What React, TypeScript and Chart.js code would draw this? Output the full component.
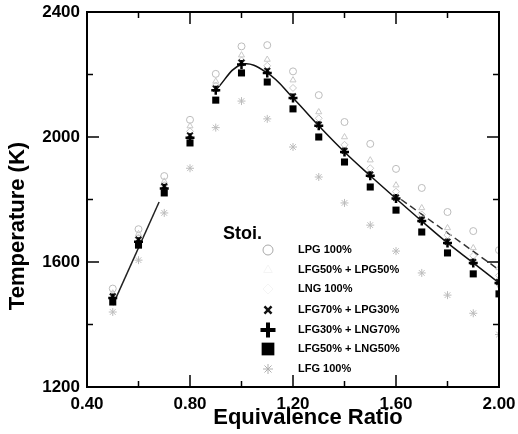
import React, { useEffect, useRef } from 'react';
import { Chart, registerables } from 'chart.js';
import { drawPoint } from 'chart.js/helpers';

Chart.register(...registerables);

// Equivalence ratio values
const phi = [0.5, 0.6, 0.7, 0.8, 0.9, 1.0, 1.1, 1.2, 1.3, 1.4, 1.5, 1.6, 1.7, 1.8, 1.9, 2.0];

// Flame temperature (K) per fuel
const lpg100 = [1515, 1705, 1875, 2055, 2202, 2290, 2294, 2210, 2134, 2048, 1978, 1898, 1837, 1760, 1699, 1638];
const lfg50lpg50 = [1500, 1690, 1858, 2035, 2178, 2262, 2248, 2182, 2080, 2000, 1926, 1846, 1773, 1709, 1645, 1581];
const lng100 = [1485, 1678, 1846, 2018, 2165, 2245, 2228, 2157, 2060, 1975, 1900, 1825, 1752, 1686, 1620, 1557];
const lfg70lpg30 = [1490, 1672, 1842, 2005, 2155, 2238, 2212, 2130, 2040, 1956, 1880, 1806, 1735, 1665, 1600, 1536];
const lfg30lng70 = [1485, 1665, 1835, 1998, 2150, 2232, 2205, 2125, 2036, 1952, 1876, 1803, 1731, 1661, 1597, 1533];
const lfg50lng50 = [1472, 1654, 1821, 1981, 2118, 2205, 2176, 2090, 2000, 1920, 1840, 1766, 1696, 1629, 1562, 1498];
const lfg100 = [1440, 1606, 1757, 1900, 2030, 2115, 2058, 1968, 1872, 1789, 1718, 1635, 1565, 1494, 1436, 1368];

// Fit lines
const fitLowX = [0.5, 0.68];
const fitLowY = [1462, 1792];
const fitHighStart = 4; // index of phi = 0.9
const fitUpperX = [1.62, 2.0];
const fitUpperY = [1800, 1575];

// Axis ticks
const xTicks = [0.4, 0.8, 1.2, 1.6, 2.0];
const xMinor = [0.6, 1.0, 1.4, 1.8];
const yTicks = [1200, 1600, 2000, 2400];
const yMinor = [1400, 1800, 2200];

const legendLabels = ['LPG 100%', 'LFG50% + LPG50%', 'LNG 100%', 'LFG70% + LPG30%', 'LFG30% + LNG70%', 'LFG50% + LNG50%', 'LFG 100%'];
const seriesValues = [lpg100, lfg50lpg50, lng100, lfg70lpg30, lfg30lng70, lfg50lng50, lfg100];

const FONT = "'Liberation Sans', Arial, Helvetica, sans-serif";

type Style = { pointStyle: string; color: string; fill: boolean; radius: number; borderWidth: number; legendRadius: number; legendColor: string; legendBw: number };
const styles: Style[] = [
  { pointStyle: 'circle', color: '#bcbcbc', fill: false, radius: 3.5, borderWidth: 1, legendRadius: 5, legendColor: '#a8a8a8', legendBw: 1 },
  { pointStyle: 'triangle', color: '#c8c8c8', fill: false, radius: 3.5, borderWidth: 1, legendRadius: 5, legendColor: '#f4f4f4', legendBw: 1 },
  { pointStyle: 'rectRot', color: '#c8c8c8', fill: false, radius: 3.5, borderWidth: 1, legendRadius: 5, legendColor: '#f4f4f4', legendBw: 1 },
  { pointStyle: 'crossRot', color: '#1a1a1a', fill: false, radius: 4, borderWidth: 2, legendRadius: 5, legendColor: '#111', legendBw: 2.5 },
  { pointStyle: 'cross', color: '#000', fill: false, radius: 4.5, borderWidth: 2.5, legendRadius: 7.5, legendColor: '#000', legendBw: 4 },
  { pointStyle: 'rect', color: '#000', fill: true, radius: 5, borderWidth: 0, legendRadius: 9, legendColor: '#000', legendBw: 0 },
  { pointStyle: 'star', color: '#bcbcbc', fill: false, radius: 4, borderWidth: 1, legendRadius: 5, legendColor: '#b0b0b0', legendBw: 1 },
];

const framePlugin = {
  id: 'frame',
  afterDatasetsDraw(chart: any) {
    const { ctx, chartArea } = chart;
    const { left, right, top, bottom } = chartArea;
    const xs = chart.scales.x;
    const ys = chart.scales.y;
    ctx.save();
    ctx.strokeStyle = '#000';
    ctx.lineWidth = 2;
    ctx.strokeRect(left, top, right - left, bottom - top);
    ctx.lineWidth = 1.5;
    const tick = (x1: number, y1: number, x2: number, y2: number) => {
      ctx.beginPath();
      ctx.moveTo(x1, y1);
      ctx.lineTo(x2, y2);
      ctx.stroke();
    };
    xTicks.forEach((v) => {
      const px = xs.getPixelForValue(v);
      tick(px, bottom, px, bottom - 12);
      tick(px, top, px, top + 12);
    });
    xMinor.forEach((v) => {
      const px = xs.getPixelForValue(v);
      tick(px, bottom, px, bottom - 6);
      tick(px, top, px, top + 6);
    });
    yTicks.forEach((v) => {
      const py = ys.getPixelForValue(v);
      tick(left, py, left + 12, py);
      tick(right, py, right - 12, py);
    });
    yMinor.forEach((v) => {
      const py = ys.getPixelForValue(v);
      tick(left, py, left + 6, py);
      tick(right, py, right - 6, py);
    });
    ctx.restore();
  },
};

const textPlugin = {
  id: 'texts',
  afterDraw(chart: any) {
    const { ctx } = chart;
    ctx.save();
    ctx.fillStyle = '#000';
    // axis titles
    ctx.font = `bold 22px ${FONT}`;
    ctx.textAlign = 'center';
    ctx.textBaseline = 'middle';
    ctx.fillText('Equivalence Ratio', 308, 418);
    ctx.save();
    ctx.translate(18, 226);
    ctx.rotate(-Math.PI / 2);
    ctx.fillText('Temperature (K)', 0, 0);
    ctx.restore();
    // legend
    ctx.font = `bold 18px ${FONT}`;
    ctx.textAlign = 'left';
    ctx.fillText('Stoi.', 223, 234);
    ctx.font = `bold 11px ${FONT}`;
    const rows = [250, 270, 289, 310, 330, 349, 369];
    legendLabels.forEach((label, i) => {
      const st = styles[i];
      ctx.fillStyle = '#000';
      ctx.fillText(label, 298, rows[i]);
      ctx.save();
      ctx.strokeStyle = st.legendColor;
      ctx.fillStyle = st.fill ? st.legendColor : 'rgba(0,0,0,0)';
      ctx.lineWidth = st.legendBw;
      drawPoint(ctx, { pointStyle: st.pointStyle, rotation: 0, radius: st.legendRadius, borderWidth: st.legendBw } as any, 268, rows[i]);
      ctx.restore();
    });
    ctx.restore();
  },
};

export default function App() {
  const ref = useRef<HTMLCanvasElement | null>(null);
  useEffect(() => {
    if (!ref.current) return;
    const pointSets = seriesValues.map((vals, i) => {
      const st = styles[i];
      return {
        type: 'scatter' as const,
        label: legendLabels[i],
        data: vals.map((v, k) => ({ x: phi[k], y: v })),
        pointStyle: st.pointStyle,
        pointRadius: st.radius,
        pointBorderWidth: st.borderWidth,
        pointBorderColor: st.color,
        pointBackgroundColor: st.fill ? st.color : 'rgba(0,0,0,0)',
        showLine: false,
        order: 10 - i,
      };
    });
    const lineSets = [
      {
        type: 'scatter' as const,
        label: 'fit low',
        data: fitLowX.map((x, k) => ({ x, y: fitLowY[k] })),
        showLine: true,
        borderColor: '#222',
        borderWidth: 1.5,
        pointRadius: 0,
        order: 20,
      },
      {
        type: 'scatter' as const,
        label: 'fit high',
        data: phi.slice(fitHighStart).map((x, k) => ({ x, y: lfg30lng70[fitHighStart + k] })),
        showLine: true,
        tension: 0.4,
        borderColor: '#111',
        borderWidth: 1.5,
        pointRadius: 0,
        order: 21,
      },
      {
        type: 'scatter' as const,
        label: 'fit upper',
        data: fitUpperX.map((x, k) => ({ x, y: fitUpperY[k] })),
        showLine: true,
        borderColor: '#333',
        borderWidth: 1.5,
        borderDash: [7, 4],
        pointRadius: 0,
        order: 22,
      },
    ];
    const chart = new Chart(ref.current, {
      type: 'scatter',
      data: { datasets: [...pointSets, ...lineSets] as any },
      plugins: [framePlugin, textPlugin],
      options: {
        animation: false,
        responsive: false,
        devicePixelRatio: 1,
        layout: { padding: { top: 12, right: 19, left: 0, bottom: 0 } },
        plugins: { legend: { display: false }, tooltip: { enabled: false } },
        scales: {
          x: {
            type: 'linear',
            min: 0.4,
            max: 2.0,
            afterBuildTicks: (s: any) => { s.ticks = xTicks.map((v) => ({ value: v })); },
            afterFit: (s: any) => { s.height = 47; s.paddingLeft = 0; s.paddingRight = 0; },
            grid: { display: false, drawTicks: false },
            border: { display: false },
            ticks: {
              color: '#000',
              padding: 7,
              maxRotation: 0,
              autoSkip: false,
              font: { family: FONT, size: 17, weight: 'bold' },
              callback: (v: any) => Number(v).toFixed(2),
            },
          },
          y: {
            type: 'linear',
            min: 1200,
            max: 2400,
            afterBuildTicks: (s: any) => { s.ticks = yTicks.map((v) => ({ value: v })); },
            afterFit: (s: any) => { s.width = 87; s.paddingTop = 0; s.paddingBottom = 0; },
            grid: { display: false, drawTicks: false },
            border: { display: false },
            ticks: {
              color: '#000',
              padding: 7,
              autoSkip: false,
              font: { family: FONT, size: 17, weight: 'bold' },
              callback: (v: any) => String(v),
            },
          },
        },
      } as any,
    });
    return () => chart.destroy();
  }, []);
  return (
    <div style={{ position: 'fixed', left: 0, top: 0, width: 518, height: 434, background: '#fff' }}>
      <canvas ref={ref} width={518} height={434} style={{ width: 518, height: 434, display: 'block' }} />
    </div>
  );
}
